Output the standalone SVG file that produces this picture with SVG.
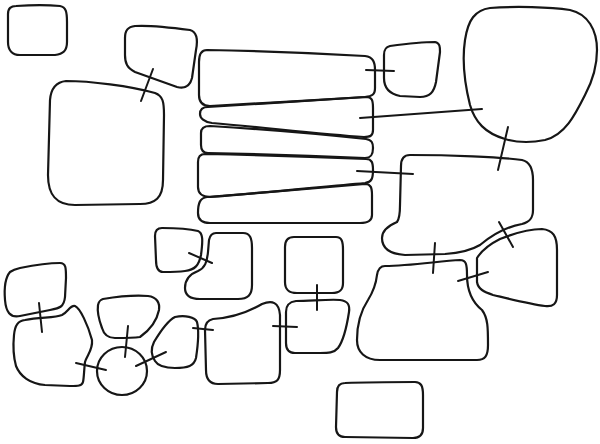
<svg xmlns="http://www.w3.org/2000/svg" width="600" height="444" viewBox="0 0 600 444">
<style>
.n{fill:none;stroke:#161616;stroke-width:2.2;stroke-linejoin:round;stroke-linecap:round}
.c{fill:none;stroke:#161616;stroke-width:2;stroke-linecap:round}
</style>
<rect width="600" height="444" fill="#fff"/>
<g id="n1"><path class="n" d="M16,6 C30,5 50,5 60,6 C66,7 67,12 67,22 L67,42 C67,51 63,54 55,55 L20,55 C12,55 8,50 8,42 L8,14 C8,8 11,6 16,6 Z"/></g>
<g id="n2"><path class="n" d="M135,26 C150,25 175,28 190,30 C197,32 198,40 196,50 L192,78 C190,86 185,89 177,87 L135,72 C127,68 125,63 125,55 L125,38 C125,30 128,27 135,26 Z"/></g>
<g id="n3"><path class="n" d="M66,81 C90,81 130,86 155,93 C163,96 164,102 164,115 L163,180 C163,198 155,204 140,204 L75,205 C56,205 48,195 48,175 L50,100 C51,88 56,82 66,81 Z"/></g>
<g id="n4"><path class="n" d="M207,50 C260,51 330,54 365,56 C373,57 375,62 375,70 L375,88 C375,95 372,96 365,97 C320,100 250,104 210,106 C202,106 199,102 199,95 L199,62 C199,54 202,50 207,50 Z"/></g>
<g id="n5"><path class="n" d="M208,107 C260,104 330,99 366,97 C372,97 373,100 373,108 L373,130 C373,136 370,137 364,137 C320,134 260,127 212,123 C204,122 200,118 200,114 C200,109 203,107 208,107 Z"/></g>
<g id="n6"><path class="n" d="M210,126 C260,129 320,134 366,139 C372,140 373,143 373,148 C373,155 371,158 365,158 C320,156 260,154 208,153 C203,153 201,150 201,145 L201,133 C201,128 204,126 210,126 Z"/></g>
<g id="n7"><path class="n" d="M205,154 C260,155 320,157 366,159 C372,159 373,163 373,170 C373,178 372,182 365,183 C320,187 260,193 210,197 C202,197 198,193 198,187 L198,162 C198,156 201,154 205,154 Z"/></g>
<g id="n8"><path class="n" d="M207,197 C260,193 320,188 365,184 C371,184 372,188 372,195 L372,215 C372,221 368,223 360,223 L210,223 C202,223 198,220 198,213 C198,203 200,198 207,197 Z"/></g>
<g id="n9"><path class="n" d="M390,46 C405,44 425,42 435,42 C440,43 440,47 440,52 L436,82 C434,92 430,97 420,97 L400,96 C390,94 384,88 384,78 L384,55 C384,49 386,47 390,46 Z"/></g>
<g id="n10"><path class="n" d="M490,8 C515,6 550,7 570,10 C588,14 597,30 597,50 C597,68 592,82 585,95 C575,115 565,135 545,140 C530,143 515,142 505,139 C485,133 475,122 470,105 C465,85 462,60 465,40 C468,20 475,10 490,8 Z"/></g>
<g id="n11"><path class="n" d="M410,155 C450,155 500,157 522,160 C531,162 533,170 533,180 L533,210 C533,218 530,222 522,224 C505,227 492,235 480,245 C470,251 460,253 445,254 L405,255 C390,254 382,248 382,238 C382,230 390,225 397,222 C400,218 400,212 400,205 L401,166 C401,158 404,155 410,155 Z"/></g>
<g id="n12"><path class="n" d="M477,258 C482,250 490,244 500,239 C515,233 530,229 542,229 C553,230 557,236 557,250 L557,295 C557,304 553,307 545,306 C530,304 510,299 493,295 C484,292 478,289 477,282 Z"/></g>
<g id="n13"><path class="n" d="M385,266 C410,266 440,261 460,260 C466,260 467,264 467,275 C467,290 472,302 482,310 C488,318 488,328 488,345 C488,356 485,360 477,360 L380,360 C365,360 357,352 357,340 C357,325 360,312 368,300 C373,292 376,284 377,275 C378,269 380,266 385,266 Z"/></g>
<g id="n14"><path class="n" d="M345,383 C370,382 395,382 415,382 C421,382 423,386 423,395 L423,428 C423,435 420,438 413,438 L345,437 C339,437 336,434 336,427 L337,392 C337,386 340,383 345,383 Z"/></g>
<g id="n15"><path class="n" d="M294,237 L336,237 C342,237 343,242 343,250 L343,283 C343,290 340,293 332,293 L297,293 C289,293 285,290 285,282 L285,247 C285,240 288,237 294,237 Z"/></g>
<g id="n16"><path class="n" d="M296,301 C310,301 330,299 340,300 C348,301 350,305 349,312 C347,325 344,340 338,348 C334,353 328,353 320,353 L295,353 C289,353 286,350 286,343 L286,312 C286,305 289,302 296,301 Z"/></g>
<g id="n17"><path class="n" d="M213,319 C230,318 245,314 262,304 C272,300 279,302 280,315 L280,370 C280,380 277,383 268,383 L218,384 C210,384 206,380 206,370 L205,330 C205,323 208,320 213,319 Z"/></g>
<g id="n18"><path class="n" d="M162,228 C175,228 190,229 198,231 C203,233 203,240 201,255 C199,265 195,270 185,271 C178,272 170,272 163,272 C158,272 156,268 156,260 L155,236 C155,230 158,228 162,228 Z"/></g>
<g id="n19"><path class="n" d="M216,233 L243,233 C250,233 252,238 252,248 L252,285 C252,295 248,299 238,299 L200,299 C190,299 185,295 185,288 C185,280 190,274 198,271 C205,268 207,262 208,252 L209,240 C210,235 212,233 216,233 Z"/></g>
<g id="n20"><path class="n" d="M20,268 C35,265 50,263 60,263 C66,263 66,268 66,278 L65,297 C64,307 60,308 50,310 L20,316 C10,318 6,312 5,300 C4,288 5,278 10,272 C13,270 16,269 20,268 Z"/></g>
<g id="n21"><path class="n" d="M25,320 C40,317 55,318 62,315 C68,312 70,305 75,306 C80,308 88,325 92,340 C93,350 87,355 85,362 C84,370 84,378 83,382 C82,386 78,386 70,386 L45,385 C30,384 20,376 16,366 C13,355 13,345 14,335 C15,325 18,321 25,320 Z"/></g>
<g id="n22"><path class="n" d="M103,299 C115,297 135,295 148,296 C157,297 160,303 159,310 C157,320 150,330 140,337 C133,338 125,338 115,338 C108,338 104,335 102,328 C99,320 97,312 98,305 C99,301 100,300 103,299 Z"/></g>
<g id="n23"><ellipse class="n" cx="122" cy="371" rx="25" ry="24"/></g>
<g id="n24"><path class="n" d="M175,317 C185,315 195,317 197,322 C199,330 198,345 196,358 C194,366 188,368 175,368 C165,368 158,366 155,361 C151,355 151,348 154,342 C160,332 167,321 175,317 Z"/></g>
<g id="connectors">
<line class="c" x1="153" y1="69" x2="141" y2="101"/>
<line class="c" x1="366" y1="70" x2="394" y2="71"/>
<line class="c" x1="360" y1="118" x2="482" y2="109"/>
<line class="c" x1="357" y1="171" x2="413" y2="174"/>
<line class="c" x1="508" y1="127" x2="498" y2="170"/>
<line class="c" x1="499" y1="222" x2="513" y2="247"/>
<line class="c" x1="435" y1="243" x2="433" y2="273"/>
<line class="c" x1="458" y1="281" x2="488" y2="272"/>
<line class="c" x1="317" y1="285" x2="317" y2="310"/>
<line class="c" x1="273" y1="326" x2="297" y2="327"/>
<line class="c" x1="193" y1="328" x2="213" y2="330"/>
<line class="c" x1="189" y1="253" x2="212" y2="263"/>
<line class="c" x1="39" y1="303" x2="42" y2="332"/>
<line class="c" x1="128" y1="326" x2="125" y2="357"/>
<line class="c" x1="76" y1="363" x2="106" y2="370"/>
<line class="c" x1="136" y1="366" x2="166" y2="352"/>
</g>
</svg>
